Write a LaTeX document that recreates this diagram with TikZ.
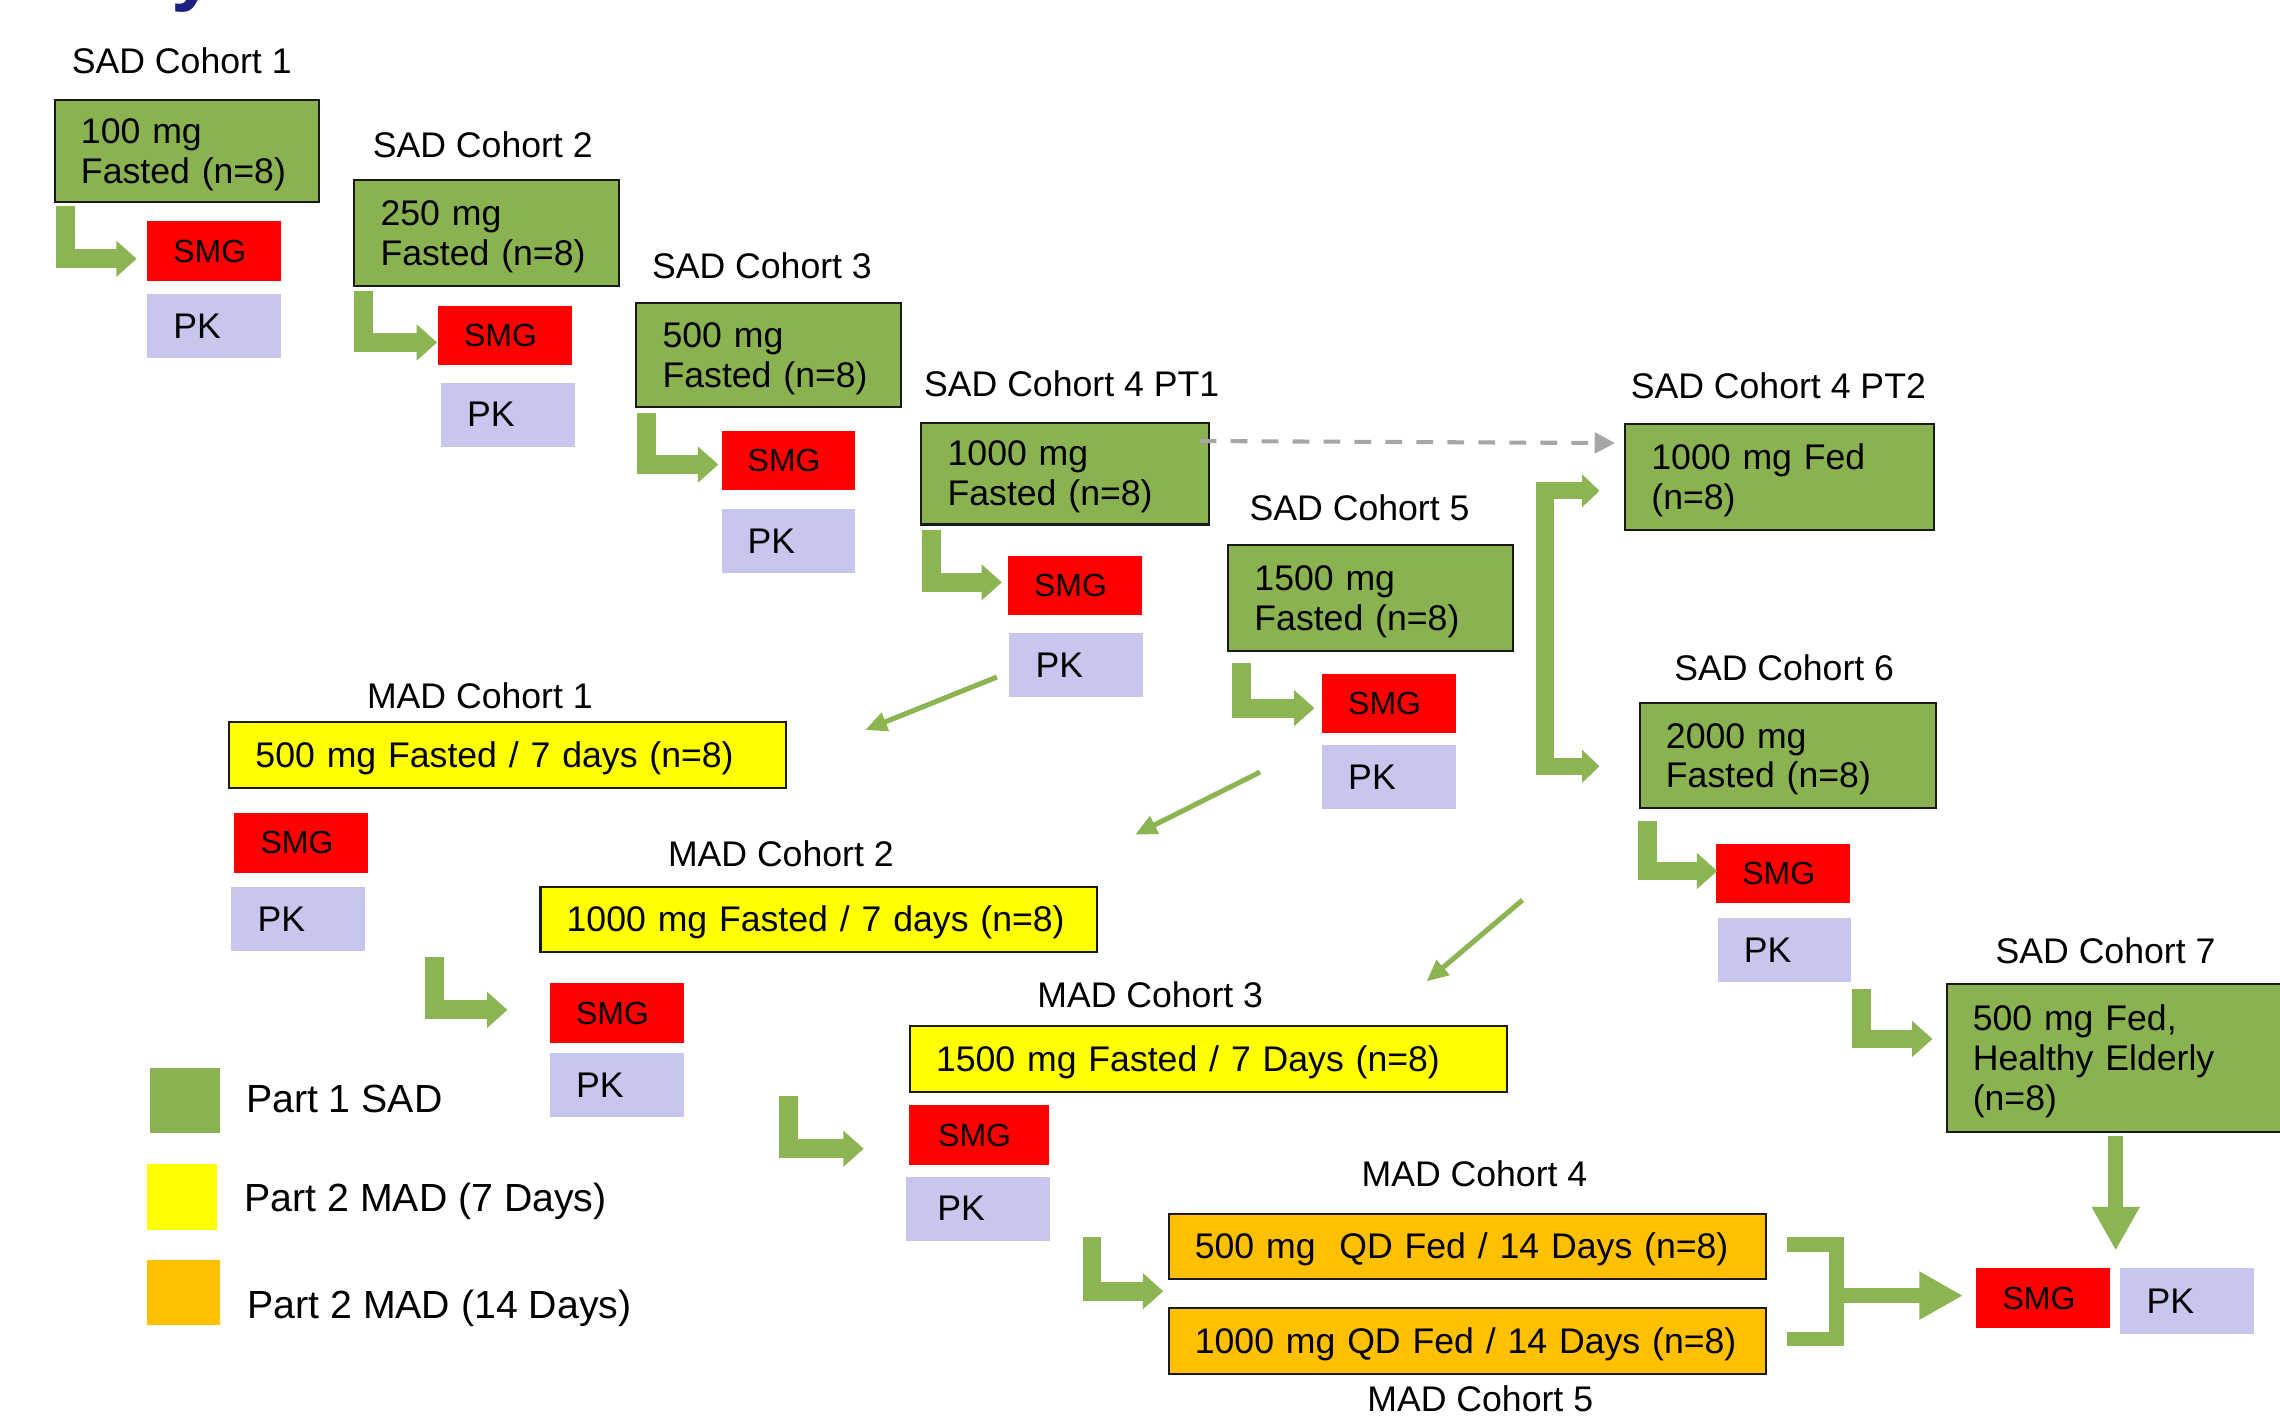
\documentclass[tikz,border=0pt]{standalone}
\usepackage{fontspec}
\setmainfont{Liberation Sans}
\usetikzlibrary{arrows.meta}
\definecolor{sadgreen}{RGB}{138,178,80}
\definecolor{arrowgreen}{RGB}{140,180,82}
\definecolor{pkblue}{RGB}{198,198,238}
\definecolor{smgred}{RGB}{255,0,0}
\definecolor{madyellow}{RGB}{255,255,0}
\definecolor{madorange}{RGB}{255,192,0}
\definecolor{dashgrey}{RGB}{166,166,166}
\definecolor{titleblue}{RGB}{32,32,128}
\definecolor{boxline}{RGB}{25,25,25}
\begin{document}
\begin{tikzpicture}[x=1pt,y=-1pt,
  lab/.style={anchor=base, inner sep=0pt, font=\fontsize{24.5}{27.5}\selectfont},
  box/.style={anchor=north west, draw=boxline, line width=1.4pt, inner xsep=18pt, inner ysep=0pt, align=left, font=\fontsize{24.5}{27.5}\selectfont, execute at begin node={\rule{0pt}{22pt}}},
  gbox/.style={box, fill=sadgreen},
  ybox/.style={box, fill=madyellow},
  obox/.style={box, fill=madorange},
  tag/.style={anchor=north west, inner xsep=18pt, inner ysep=0pt, align=left, minimum width=92pt, text width=56pt},
  smg/.style={tag, fill=smgred, minimum height=41pt, font=\fontsize{22}{24}\selectfont},
  pk/.style={tag, fill=pkblue, minimum height=44pt, font=\fontsize{24.5}{27.5}\selectfont},
  larrow/.style={draw=arrowgreen, line width=13pt, line join=miter, -{Triangle[width=24pt,length=14pt]}},
  brarrow/.style={draw=arrowgreen, line width=12pt, line join=miter, {Triangle[width=22pt,length=12pt]}-{Triangle[width=22pt,length=12pt]}},
  mbar/.style={draw=arrowgreen, line width=10pt, line join=miter},
  bigarrow/.style={draw=arrowgreen, line width=10pt, -{Triangle[width=31pt,length=30pt]}},
  diag/.style={draw=arrowgreen, line width=3.5pt, -{Triangle[width=13pt,length=15pt]}},
  dasharrow/.style={draw=dashgrey, line width=2.8pt, dash pattern=on 11.5pt off 9.8pt, -{Triangle[width=14pt,length=14pt]}},
  legsq/.style={anchor=north west, inner sep=0pt, minimum width=48pt, minimum height=45pt},
  legtext/.style={anchor=base west, inner sep=0pt, font=\fontsize{27}{30}\selectfont}
]
\useasboundingbox[fill=white] (0,0) rectangle (1568,977);

% title fragment
\node[anchor=base west, inner sep=0pt, text=titleblue, font=\bfseries\fontsize{56}{60}\selectfont] (title) at (118,-3) {y};

% labels
\node[lab] (l1) at (125,50.5) {SAD Cohort 1};
\node[lab] (l2) at (332,108) {SAD Cohort 2};
\node[lab] (l3) at (524,191.5) {SAD Cohort 3};
\node[lab] (l4) at (737,273) {SAD Cohort 4 PT1};
\node[lab] (l4b) at (1223,274) {SAD Cohort 4 PT2};
\node[lab] (l5) at (935,358) {SAD Cohort 5};
\node[lab] (l6) at (1227,468) {SAD Cohort 6};
\node[lab] (l7) at (1448,662.5) {SAD Cohort 7};
\node[lab] (m1) at (330,487) {MAD Cohort 1};
\node[lab] (m2) at (537,596) {MAD Cohort 2};
\node[lab] (m3) at (791,693) {MAD Cohort 3};
\node[lab] (m4) at (1014,816) {MAD Cohort 4};
\node[lab] (m5) at (1018,971) {MAD Cohort 5};

% SAD boxes
\node[gbox, minimum width=182pt, minimum height=70pt, text width=146pt] (G1) at (37,68) {100 mg\\Fasted (n=8)};
\node[gbox, minimum width=182pt, minimum height=73pt, text width=146pt] (G2) at (243,123) {250 mg\\Fasted (n=8)};
\node[gbox, minimum width=182pt, minimum height=71pt, text width=146pt] (G3) at (437,208) {500 mg\\Fasted (n=8)};
\node[gbox, minimum width=198pt, minimum height=70pt, text width=162pt] (G4) at (633,290) {1000 mg\\Fasted (n=8)};
\node[gbox, minimum width=212pt, minimum height=73pt, text width=176pt] (G4b) at (1117,291) {1000 mg Fed\\(n=8)};
\node[gbox, minimum width=196pt, minimum height=73pt, text width=160pt] (G5) at (844,374) {1500 mg\\Fasted (n=8)};
\node[gbox, minimum width=204pt, minimum height=72pt, text width=168pt] (G6) at (1127,483) {2000 mg\\Fasted (n=8)};
\node[gbox, minimum width=252pt, minimum height=102pt, text width=216pt] (G7) at (1338,676) {500 mg Fed,\\Healthy Elderly\\(n=8)};

% MAD boxes
\node[ybox, minimum width=383pt, minimum height=45pt, text width=347pt] (MAD1) at (157,496) {500 mg Fasted / 7 days (n=8)};
\node[ybox, minimum width=383pt, minimum height=45pt, text width=347pt] (MAD2) at (371,609) {1000 mg Fasted / 7 days (n=8)};
\node[ybox, minimum width=411pt, minimum height=45pt, text width=375pt] (MAD3) at (625,705) {1500 mg Fasted / 7 Days (n=8)};
\node[obox, minimum width=411pt, minimum height=45pt, text width=375pt] (MAD4) at (803,834) {500 mg\ \ QD Fed / 14 Days (n=8)};
\node[obox, minimum width=411pt, minimum height=45pt, text width=375pt] (MAD5) at (803,899) {1000 mg QD Fed / 14 Days (n=8)};

% SMG / PK
\node[smg] (S1) at (101,152) {SMG};
\node[pk] (P1) at (101,202) {PK};
\node[smg] (S2) at (301,210) {SMG};
\node[pk] (P2) at (303,263) {PK};
\node[smg] (S3) at (496,296) {SMG};
\node[pk] (P3) at (496,350) {PK};
\node[smg] (S4) at (693,382) {SMG};
\node[pk] (P4) at (694,435) {PK};
\node[smg] (S5) at (909,463) {SMG};
\node[pk] (P5) at (909,512) {PK};
\node[smg] (S6) at (1180,580) {SMG};
\node[pk] (P6) at (1181,631) {PK};
\node[smg] (SM1) at (161,559) {SMG};
\node[pk] (PM1) at (159,610) {PK};
\node[smg] (SM2) at (378,676) {SMG};
\node[pk] (PM2) at (378,724) {PK};
\node[smg, minimum width=96pt] (SM3) at (625,760) {SMG};
\node[pk, minimum width=99pt] (PM3) at (623,809) {PK};
\node[smg] (S7) at (1359,872) {SMG};
\node[pk, minimum height=45pt] (P7) at (1458,872) {PK};

% L-arrow end points
\coordinate (a1s) at (45,142);    \coordinate (a1e) at (94,178);
\coordinate (a2s) at (250,200);   \coordinate (a2e) at (300.6,235.5);
\coordinate (a3s) at (444.5,284); \coordinate (a3e) at (494,319.5);
\coordinate (a4s) at (640.5,364.5); \coordinate (a4e) at (689,400.5);
\coordinate (a5s) at (854,456);   \coordinate (a5e) at (904,487);
\coordinate (a6s) at (1133,564.5); \coordinate (a6e) at (1181,599);
\coordinate (a7s) at (1280,680);  \coordinate (a7e) at (1329,714.5);
\coordinate (am2s) at (299,658);  \coordinate (am2e) at (349,694.5);
\coordinate (am3s) at (542,754);  \coordinate (am3e) at (594,790);
\coordinate (am4s) at (751,851);  \coordinate (am4e) at (800,888);

\draw[larrow] (a1s) |- (a1e);
\draw[larrow] (a2s) |- (a2e);
\draw[larrow] (a3s) |- (a3e);
\draw[larrow] (a4s) |- (a4e);
\draw[larrow] (a5s) |- (a5e);
\draw[larrow] (a6s) |- (a6e);
\draw[larrow] (a7s) |- (a7e);
\draw[larrow] (am2s) |- (am2e);
\draw[larrow] (am3s) |- (am3e);
\draw[larrow] (am4s) |- (am4e);

% dashed arrow 4 PT1 -> 4 PT2
\coordinate (ds) at (825,303.3);
\coordinate (de) at (1110.7,304.7);
\draw[dasharrow] (ds) -- (de);

% bracket to PT2 and cohort 6
\coordinate (brt) at (1100,337.5);
\coordinate (brb) at (1100,527);
\coordinate (brx) at (1062.5,430);
\draw[brarrow] (brt) -- (brt -| brx) -- (brb -| brx) -- (brb);

% diagonal arrows to MAD cohorts
\coordinate (d1s) at (685.6,465.6); \coordinate (d1e) at (595,502);
\coordinate (d2s) at (866.5,531);   \coordinate (d2e) at (780.6,574);
\coordinate (d3s) at (1047,619);    \coordinate (d3e) at (981,675);
\draw[diag] (d1s) -- (d1e);
\draw[diag] (d2s) -- (d2e);
\draw[diag] (d3s) -- (d3e);

% cohort 7 down arrow
\coordinate (c7s) at (1455,781);
\coordinate (c7e) at (1455,860);
\draw[bigarrow] (c7s) -- (c7e);

% MAD 4/5 merge bracket
\coordinate (mg4) at (1229,856);
\coordinate (mg5) at (1229,921);
\coordinate (mgx) at (1263,891);
\coordinate (mge) at (1350,891);
\draw[mbar] (mg4) -- (mg4 -| mgx) -- (mg5 -| mgx) -- (mg5);
\draw[bigarrow] (mgx) -- (mge);

% legend
\node[legsq, fill=sadgreen] (lg1) at (103,734) {};
\node[legsq, fill=madyellow, minimum height=46pt] (lg2) at (101,800) {};
\node[legsq, fill=madorange, minimum width=50pt] (lg3) at (101,866) {};
\node[legtext] (lt1) at (169,765) {Part 1 SAD};
\node[legtext] (lt2) at (168,833) {Part 2 MAD (7 Days)};
\node[legtext] (lt3) at (170,907) {Part 2 MAD (14 Days)};
\end{tikzpicture}
\end{document}
